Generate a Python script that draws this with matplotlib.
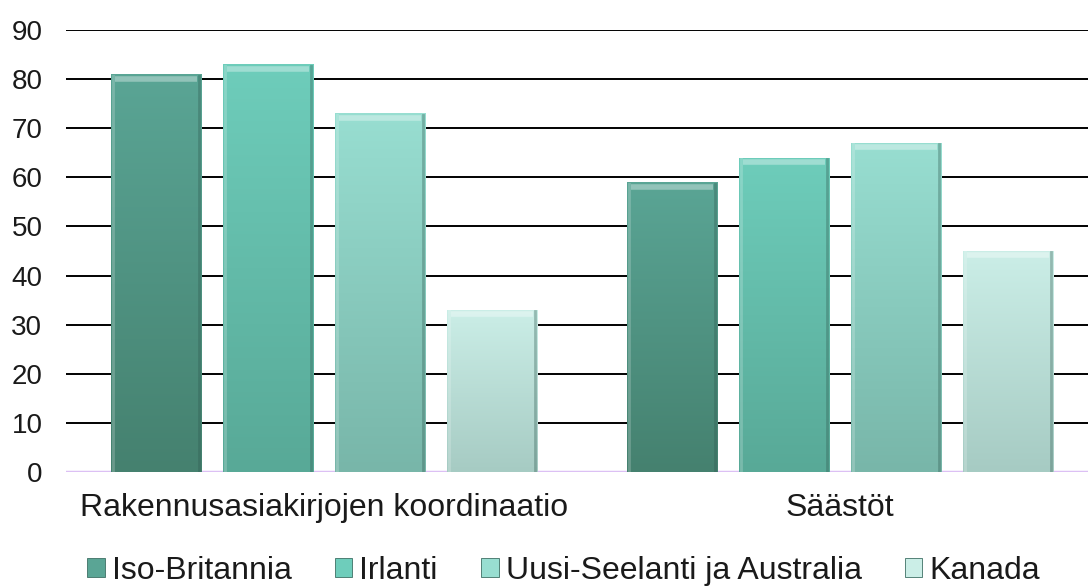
import numpy as np
import matplotlib.pyplot as plt
from matplotlib.patches import Patch
from matplotlib.colors import LinearSegmentedColormap

plt.rcParams['font.family'] = ['Liberation Sans', 'DejaVu Sans']

categories = ["Rakennusasiakirjojen koordinaatio", "Säästöt"]
series = ["Iso-Britannia", "Irlanti", "Uusi-Seelanti ja Australia", "Kanada"]
values = [
    [81, 59],   # Iso-Britannia
    [83, 64],   # Irlanti
    [73, 67],   # Uusi-Seelanti ja Australia
    [33, 45],   # Kanada
]
# (top colour, bottom colour) for each series
colors = [
    ("#5aa595", "#45816f"),
    ("#6ecdbb", "#58a997"),
    ("#98ded1", "#78b6a9"),
    ("#cbeee7", "#a6cbc3"),
]

fig = plt.figure(figsize=(10.88, 5.86), dpi=100)
ax = fig.add_axes([66 / 1088, 1 - 472 / 586, 1032 / 1088, 442 / 586])

x = np.arange(len(categories))
width = 0.176
step = 0.217
offsets = (np.arange(len(series)) - 1.5) * step

for i, name in enumerate(series):
    top, bottom = colors[i]
    bars = ax.bar(x + offsets[i], values[i], width, color=bottom,
                  edgecolor="#3d6f64", linewidth=0.6, zorder=3)
    cmap = LinearSegmentedColormap.from_list("g%d" % i, [bottom, top])
    grad = np.linspace(0, 1, 256).reshape(-1, 1)
    for b in bars:
        x0, w, h = b.get_x(), b.get_width(), b.get_height()
        im = ax.imshow(grad, cmap=cmap, aspect="auto", origin="lower",
                       extent=[x0, x0 + w, 0, h], zorder=3.5)
        im.set_clip_path(b)
        # bevel: light top band, darker right edge
        ax.plot([x0 + w * 0.05, x0 + w * 0.95], [h - 0.9, h - 0.9],
                color="white", alpha=0.35, lw=4, zorder=4,
                solid_capstyle="butt")
        ax.plot([x0 + w * 0.975, x0 + w * 0.975], [0.3, h - 0.3],
                color="#2f5a50", alpha=0.35, lw=2, zorder=4)
        ax.plot([x0 + w * 0.025, x0 + w * 0.025], [0.3, h - 0.3],
                color="white", alpha=0.2, lw=2, zorder=4)

ax.set_xlim(-0.5, 1.5)
ax.set_ylim(0, 90)
ax.set_yticks(np.arange(0, 91, 10))
ax.yaxis.grid(True, color="black", linewidth=1.4, zorder=1)
ax.set_axisbelow(True)
for s in ax.spines.values():
    s.set_visible(False)
ax.axhline(0, color="#dcc0f4", linewidth=2.5, zorder=2)
ax.tick_params(axis="y", length=0, pad=17, labelsize=20, labelcolor="#1a1a1a")
ax.tick_params(axis="x", length=0, pad=15, labelsize=23, labelcolor="#1a1a1a")
ax.set_xticks(x)
ax.set_xticklabels(categories)

handles = [Patch(facecolor=colors[i][0], edgecolor="#3d6f64", linewidth=0.6)
           for i in range(len(series))]
fig.legend(handles, series, loc="center", bbox_to_anchor=(0.518, 1 - 571 / 586),
           ncol=4, frameon=False, fontsize=23, handlelength=0.55, handleheight=0.55,
           handletextpad=0.22, columnspacing=1.35, labelcolor="#1a1a1a",
           borderpad=0, borderaxespad=0)

fig.savefig("out.png", dpi=100)
